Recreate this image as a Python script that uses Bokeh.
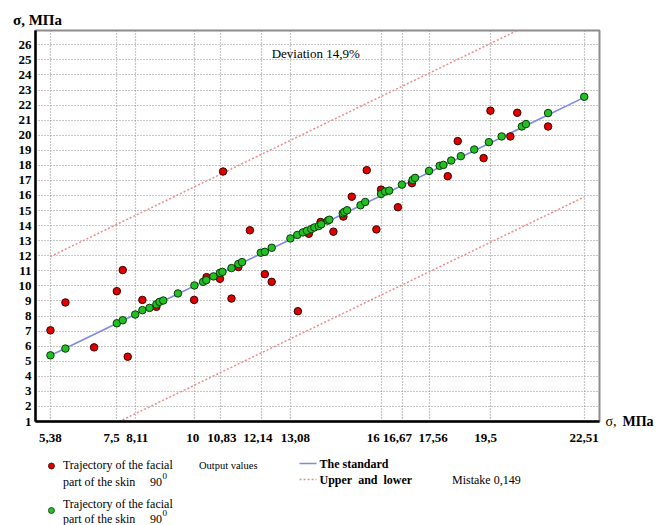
from bokeh.plotting import figure
from bokeh.models import Range1d, FixedTicker, Label, LinearAxis
from bokeh.layouts import column
from bokeh.embed import file_html
from bokeh.resources import INLINE
from bokeh.core.properties import value

# ---------------- data ----------------
x_ticks = [5.38, 7.5, 8.11, 10, 10.83, 12.14, 13.08, 16, 16.67, 17.56, 19.5, 22.51]
x_tick_labels = ["5,38", "7,5", "8,11", "10", "10,83", "12,14", "13,08",
                 "16", "16,67", "17,56", "19,5", "22,51"]
y_ticks = list(range(1, 27))

green_x = [5.38, 5.86, 7.51, 7.70, 8.10, 8.33, 8.56, 8.78, 8.88, 9.00,
           9.47, 10.00, 10.28, 10.38, 10.61, 10.82, 10.90, 11.19, 11.41, 11.53,
           12.13, 12.26, 12.48, 13.08, 13.30, 13.48, 13.61, 13.75, 13.85, 13.99,
           14.07, 14.28, 14.33, 14.76, 14.81, 14.90, 15.33, 15.48, 15.99, 16.12,
           16.25, 16.66, 17.00, 17.08, 17.53, 17.87, 17.99, 18.24, 18.55, 18.98,
           19.45, 19.86, 20.51, 20.64, 21.35, 22.51]
green_y = [5.39, 5.84, 7.52, 7.72, 8.10, 8.39, 8.54, 8.78, 8.94, 9.03,
           9.50, 10.03, 10.27, 10.38, 10.63, 10.87, 10.93, 11.18, 11.45, 11.58,
           12.20, 12.26, 12.53, 13.15, 13.38, 13.55, 13.66, 13.77, 13.88, 13.97,
           14.09, 14.33, 14.39, 14.82, 14.91, 15.02, 15.35, 15.57, 16.10, 16.26,
           16.32, 16.72, 17.03, 17.17, 17.63, 17.97, 18.03, 18.32, 18.61, 19.05,
           19.54, 19.92, 20.58, 20.74, 21.47, 22.55]

red_x = [5.38, 5.86, 6.78, 7.51, 7.70, 7.86, 8.33, 8.78, 9.99, 10.39,
         10.82, 10.92, 11.19, 11.41, 11.78, 12.26, 12.48, 13.32, 13.67, 14.05,
         14.46, 14.78, 15.05, 15.53, 15.84, 15.99, 16.53, 16.98, 18.13, 18.45,
         19.28, 19.50, 20.14, 20.36, 21.35]
red_y = [7.05, 8.90, 5.92, 9.65, 11.05, 5.30, 9.07, 8.61, 9.07, 10.58,
         10.47, 17.59, 9.16, 11.25, 13.69, 10.78, 10.27, 8.32, 13.46, 14.24,
         13.60, 14.60, 15.92, 17.68, 13.75, 16.39, 15.22, 16.82, 17.28, 19.61,
         18.48, 21.63, 19.92, 21.49, 20.58]

standard_x = [5.38, 22.51]
standard_y = [5.38, 22.51]
band_x = [5.38, 22.51]
upper_y = [11.95, 29.10]
lower_y = [-1.20, 15.90]

axis_unit_sigma = "σ,"
axis_unit_mpa = "МПа"
legend_traj_1 = "Trajectory of the facial"
legend_traj_2 = "part of the skin"
legend_deg = "90"
legend_sup = "0"
legend_output = "Output values"
legend_standard = "The standard"
legend_bounds = "Upper\u00a0 and\u00a0 lower"
legend_mistake = "Mistake 0,149"
deviation_text = "Deviation 14,9%"

FONT = "Liberation Serif"
NB = "\u00a0"

# label nudges (leading, trailing non-breaking spaces) so crowded tick labels don't collide
tick_pads = [(0, 0), (0, 3), (1, 0), (0, 1), (1, 0), (0, 2), (3, 0),
             (0, 5), (0, 3), (2, 0), (0, 3), (0, 0)]

# ---------------- main chart ----------------
p = figure(width=656, height=448,
           x_range=Range1d(4.9, 23.0), y_range=Range1d(1, 26.95),
           output_backend="svg", toolbar_location=None,
           min_border_left=35, min_border_right=55,
           min_border_top=30, min_border_bottom=27)
p.background_fill_color = "white"
p.border_fill_color = "white"
p.outline_line_color = "#8c8c8c"
p.outline_line_width = 2

p.xaxis.ticker = FixedTicker(ticks=x_ticks)
p.xaxis.major_label_overrides = {
    t: NB * a + lab + NB * b for t, lab, (a, b) in zip(x_ticks, x_tick_labels, tick_pads)}
p.yaxis.ticker = FixedTicker(ticks=y_ticks)
for ax in (p.xaxis[0], p.yaxis[0]):
    ax.axis_line_color = "black"
    ax.axis_line_width = 2.5
    ax.major_tick_line_color = None
    ax.minor_tick_line_color = None
    ax.major_tick_out = 0
    ax.major_tick_in = 0
    ax.major_label_text_font = FONT
    ax.major_label_text_font_style = "bold"
    ax.major_label_text_font_size = "13px"
    ax.major_label_text_color = "black"
p.xaxis.major_label_standoff = 8
p.yaxis.major_label_standoff = 4

p.xgrid.ticker = FixedTicker(ticks=x_ticks)
p.ygrid.ticker = FixedTicker(ticks=y_ticks)
for g in (p.xgrid[0], p.ygrid[0]):
    g.grid_line_color = "#8f8f8f"
    g.grid_line_dash = "1 2"
    g.grid_line_width = 1.2


def title_axis(ticks, overrides, style, size, standoff):
    ax = LinearAxis(ticker=FixedTicker(ticks=ticks), major_label_overrides=overrides)
    ax.axis_line_color = None
    ax.major_tick_line_color = None
    ax.minor_tick_line_color = None
    ax.major_tick_out = 0
    ax.major_tick_in = 0
    ax.major_label_standoff = standoff
    ax.major_label_text_font = FONT
    ax.major_label_text_font_style = style
    ax.major_label_text_font_size = size
    ax.major_label_text_color = "black"
    return ax


# vertical-axis unit written above the plot's top-left corner
p.add_layout(title_axis([4.964], {4.964: axis_unit_sigma + " " + axis_unit_mpa},
                        "bold", "15px", 3), "above")
# horizontal-axis unit written to the right of the x axis
p.add_layout(title_axis([1], {1: axis_unit_sigma}, "normal", "14px", 6), "right")
p.add_layout(title_axis([1], {1: axis_unit_mpa}, "bold", "14px", 3), "right")

p.line(band_x, upper_y, line_color="#f08a8a", line_dash="2 2", line_width=1.5)
p.line(band_x, lower_y, line_color="#f08a8a", line_dash="2 2", line_width=1.5)
p.line(standard_x, standard_y, line_color="#7f89e6", line_width=1.6)
p.scatter(red_x, red_y, size=7.5, fill_color="#e00000", line_color="#3a0000", line_width=1)
p.scatter(green_x, green_y, size=7.5, fill_color="#22c022", line_color="#0a3a0a", line_width=1)

p.add_layout(Label(x=12.479, y=25.42, text=deviation_text, text_font=FONT,
                   text_font_size="13px", text_baseline="middle", text_color="black"))

# ---------------- legend strip (coordinates = page pixels) ----------------
q = figure(width=656, height=77, x_range=Range1d(35, 601), y_range=Range1d(525, 448),
           output_backend="svg", toolbar_location=None,
           x_axis_type=None, y_axis_type=None,
           min_border_left=35, min_border_right=55, min_border_top=0, min_border_bottom=0)
q.grid.visible = False
q.outline_line_color = None
q.background_fill_color = "white"
q.border_fill_color = "white"

q.scatter([51], [465.5], size=6, fill_color="#e00000", line_color="#3a0000", line_width=0.8)
q.scatter([51], [510], size=6, fill_color="#22c022", line_color="#0a3a0a", line_width=0.8)
q.text([62.5, 62.5, 150, 62.5, 62.5, 150, 453],
       [464, 481, 481, 503, 518, 518, 479],
       text=[legend_traj_1, legend_traj_2, legend_deg, legend_traj_1, legend_traj_2,
             legend_deg, legend_mistake],
       text_font=value(FONT), text_font_size=value("12px"),
       text_baseline="middle", text_color="black")
q.text([162.5, 162.5], [475, 512], text=[legend_sup, legend_sup],
       text_font=value(FONT), text_font_size=value("9px"),
       text_baseline="middle", text_color="black")
q.text([199], [465], text=[legend_output], text_font=value(FONT),
       text_font_size=value("10.5px"), text_baseline="middle", text_color="black")
q.text([320, 320], [463, 479], text=[legend_standard, legend_bounds],
       text_font=value(FONT), text_font_size=value("12px"), text_font_style="bold",
       text_baseline="middle", text_color="black")
q.line([300, 317], [463, 463], line_color="#7f89e6", line_width=1.6)
q.line([300, 317], [479, 479], line_color="#f08a8a", line_dash="2 2", line_width=1.5)

layout = column(p, q, spacing=0)
open("out.html", "w").write(file_html(layout, INLINE))
